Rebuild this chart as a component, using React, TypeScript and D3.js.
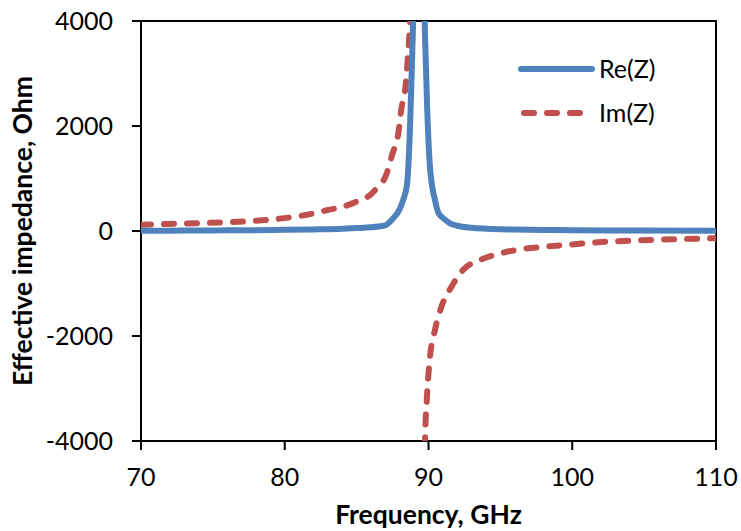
import React from "react";
import * as d3 from "d3";

// Frequency grid (GHz) and impedance readings (Ohm)
const reFreq = [70, 72, 74, 76, 78, 80, 82, 84, 85, 86, 86.5, 87, 87.5, 88, 88.25, 88.5, 88.7, 88.85, 89.0, 89.3, 89.6, 89.75, 89.9, 90.1, 90.45, 90.7, 91.0, 91.5, 92, 93, 94, 95, 96, 98, 100, 104, 110];
const reVal = [5, 7, 9, 12, 16, 22, 30, 42, 55, 70, 85, 110, 230, 420, 600, 880, 1860, 3200, 4700, 7500, 5500, 3800, 2400, 1225, 590, 337, 250, 147, 100, 62, 45, 35, 28, 20, 15, 10, 6];

const imFreq = [70, 72, 74, 76, 78, 80, 81, 82, 83, 84, 85, 86, 86.5, 87, 87.5, 87.9, 88.1, 88.4, 88.55, 88.7, 88.85, 89.0, 89.4, 89.7, 89.76, 89.88, 90.06, 90.45, 90.9, 91.6, 92.4, 93.6, 95, 96.1, 98, 100, 102, 104, 106, 108, 110];
const imVal: (number | null)[] = [118, 135, 150, 168, 195, 245, 285, 335, 400, 460, 560, 700, 850, 1030, 1480, 1860, 2305, 2750, 3257, 3890, 5000, 8000, null, -5000, -3981, -3219, -2514, -1886, -1442, -1061, -743, -552, -425, -362, -300, -255, -210, -185, -165, -150, -138];

const xTicks = [70, 80, 90, 100, 110];
const yTicks = [-4000, -2000, 0, 2000, 4000];

const seriesNames = ["Re(Z)", "Im(Z)"];
const seriesColors = ["#4F81BD", "#C0504D"];

const W = 741;
const H = 531;
const margin = { left: 141, right: 25, top: 21, bottom: 90 };
const FONT = "Lato, 'Open Sans', sans-serif";

export default function App() {
  const x = d3.scaleLinear().domain([70, 110]).range([margin.left, W - margin.right]);
  const y = d3.scaleLinear().domain([-4000, 4000]).range([H - margin.bottom, margin.top]);

  const rePts: [number, number | null][] = reFreq.map((f, i) => [f, reVal[i]]);
  const imPts: [number, number | null][] = imFreq.map((f, i) => [f, imVal[i]]);

  const line = d3
    .line<[number, number | null]>()
    .defined((d) => d[1] !== null)
    .x((d) => x(d[0]))
    .y((d) => y(d[1] as number))
    .curve(d3.curveMonotoneX);

  const [x0, x1] = x.range();
  const [y0, y1] = [y(-4000), y(4000)];

  return (
    <svg
      width={W}
      height={H}
      style={{ position: "absolute", left: 0, top: 0, background: "#fff" }}
      fontFamily={FONT}
    >
      <defs>
        <clipPath id="plot-clip">
          <rect x={x0} y={y1} width={x1 - x0} height={y0 - y1} />
        </clipPath>
      </defs>

      {/* plot frame */}
      <rect x={x0} y={y1} width={x1 - x0} height={y0 - y1} fill="none" stroke="#000" strokeWidth={2} />

      {/* y ticks and labels */}
      {yTicks.map((t) => (
        <g key={`y${t}`}>
          <line x1={x0 - 9} x2={x0} y1={y(t)} y2={y(t)} stroke="#000" strokeWidth={2} />
          <text x={x0 - 28} y={y(t)} dy="0.36em" textAnchor="end" fontSize={25} fill="#000">
            {t}
          </text>
        </g>
      ))}

      {/* x ticks and labels */}
      {xTicks.map((t) => (
        <g key={`x${t}`}>
          <line x1={x(t)} x2={x(t)} y1={y0} y2={y0 + 9} stroke="#000" strokeWidth={2} />
          <text x={x(t)} y={y0 + 45} textAnchor="middle" fontSize={25} fill="#000">
            {t}
          </text>
        </g>
      ))}

      {/* series */}
      <g clipPath="url(#plot-clip)">
        <path d={line(imPts) ?? ""} fill="none" stroke={seriesColors[1]} strokeWidth={6} strokeDasharray="10 13" strokeLinecap="round" />
        <path d={line(rePts) ?? ""} fill="none" stroke={seriesColors[0]} strokeWidth={6} strokeLinejoin="round" />
      </g>

      {/* legend */}
      <g>
        <line x1={521} x2={592} y1={69} y2={69} stroke={seriesColors[0]} strokeWidth={6} strokeLinecap="round" />
        <text x={599} y={69} dy="0.36em" fontSize={25} fill="#000">{seriesNames[0]}</text>
        <line x1={524} x2={582} y1={113} y2={113} stroke={seriesColors[1]} strokeWidth={6} strokeDasharray="10 13" strokeLinecap="round" />
        <text x={599} y={113} dy="0.36em" fontSize={25} fill="#000">{seriesNames[1]}</text>
      </g>

      {/* axis titles */}
      <text x={(x0 + x1) / 2} y={524} textAnchor="middle" fontSize={26.5} fontWeight="bold" fill="#000">
        Frequency, GHz
      </text>
      <text
        transform={`translate(32, ${(y0 + y1) / 2}) rotate(-90)`}
        textAnchor="middle"
        fontSize={26.5}
        fontWeight="bold"
        fill="#000"
      >
        Effective impedance, Ohm
      </text>
    </svg>
  );
}
